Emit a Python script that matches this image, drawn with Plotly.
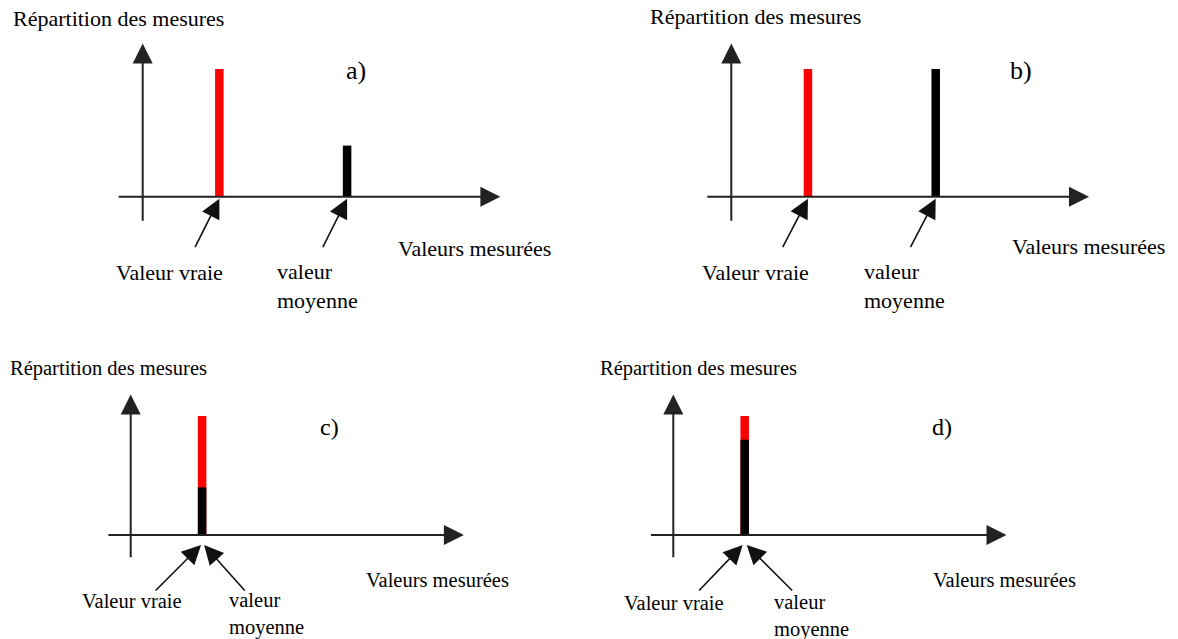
import plotly.graph_objects as go

# ---------------- data ----------------
panel_labels = ["a)", "b)", "c)", "d)"]
true_values = [3, 3, 3, 3]          # position of the true value
mean_values = [8, 8, 3, 3]          # position of the mean value
true_heights = [5, 5, 5, 5]         # red bar heights
mean_heights = [2, 5, 2, 4]         # black bar heights
y_title = "Répartition des mesures"
x_title = "Valeurs mesurées"
true_label = "Valeur vraie"
mean_label = "valeur<br>moyenne"

# ---------------- layout (pixels) ----------------
W, H = 1178, 639
FONT = "Liberation Serif, Times New Roman, serif"

panels = [
    dict(box=(0, 0, 589, 320), ox=142.7, oy=196.7, u=25.55, ytip=6.0, fs=22, lfs=26,
         title=(10.8, 18.3), lab=(344, 70), tv=(114, 272.7), mv=(275, 286.5), xt=(396, 248.3),
         tarr=(-25, 50), marr=(-25, 50), yshift=-2, txs=0, mxs=0),
    dict(box=(589, 0, 1178, 320), ox=731.3, oy=196.7, u=25.55, ytip=6.0, fs=22, lfs=26,
         title=(648.4, 16.7), lab=(1008.4, 70), tv=(700, 272.7), mv=(862, 286.5), xt=(1009.5, 246.7),
         tarr=(-26, 50), marr=(-26, 50), yshift=-2, txs=0, mxs=0),
    dict(box=(0, 320, 589, 639), ox=130.7, oy=535, u=23.8, ytip=5.9, fs=20.5, lfs=24,
         title=(7.9, 368.3), lab=(317.7, 427.3), tv=(80, 601), mv=(226.7, 614), xt=(364.3, 580),
         tarr=(-47, 47), marr=(42, 47), yshift=-10, txs=-1, mxs=2),
    dict(box=(589, 320, 1178, 639), ox=673.3, oy=535, u=23.8, ytip=5.9, fs=20.5, lfs=24,
         title=(598.3, 368.3), lab=(930.4, 427.3), tv=(622, 603), mv=(771.7, 615.6), xt=(931, 580),
         tarr=(-45, 47), marr=(47, 47), yshift=-10, txs=-2, mxs=2),
]

AXIS_COLOR = "#222222"
fig = go.Figure()
annotations = []
layout_axes = {}


def px_x(x):
    return x / W


def px_y(y):
    return 1 - y / H


for i, p in enumerate(panels):
    n = i + 1
    xa = "x" if n == 1 else f"x{n}"
    ya = "y" if n == 1 else f"y{n}"
    x0, y0, x1, y1 = p["box"]
    ox, oy, u = p["ox"], p["oy"], p["u"]
    bw = 8.5 / u

    layout_axes["xaxis" if n == 1 else f"xaxis{n}"] = dict(
        domain=[x0 / W, x1 / W], range=[(x0 - ox) / u, (x1 - ox) / u],
        visible=False, fixedrange=True, anchor=ya)
    layout_axes["yaxis" if n == 1 else f"yaxis{n}"] = dict(
        domain=[1 - y1 / H, 1 - y0 / H], range=[(oy - y1) / u, (oy - y0) / u],
        visible=False, fixedrange=True, anchor=xa)

    # bars: true value (red) then mean value (black) on top
    fig.add_trace(go.Bar(x=[true_values[i]], y=[true_heights[i]], width=[bw],
                         marker=dict(color="#ff0000", line=dict(width=0)),
                         xaxis=xa, yaxis=ya, showlegend=False, hoverinfo="skip"))
    fig.add_trace(go.Bar(x=[mean_values[i]], y=[mean_heights[i]], width=[bw],
                         marker=dict(color="#000000", line=dict(width=0)),
                         xaxis=xa, yaxis=ya, showlegend=False, hoverinfo="skip"))

    # axis arrows
    annotations.append(dict(x=14, y=0, ax=-1, ay=0, xref=xa, yref=ya, axref=xa, ayref=ya,
                            text="", showarrow=True, arrowhead=2, arrowsize=2.0,
                            arrowwidth=2, arrowcolor=AXIS_COLOR))
    annotations.append(dict(x=0, y=p["ytip"], ax=0, ay=-1, xref=xa, yref=ya, axref=xa, ayref=ya,
                            text="", showarrow=True, arrowhead=2, arrowsize=2.0,
                            arrowwidth=2, arrowcolor=AXIS_COLOR))

    # pointer arrows to true and mean values
    annotations.append(dict(x=true_values[i], y=0, xref=xa, yref=ya, ax=p["tarr"][0], ay=p["tarr"][1],
                            yshift=p["yshift"], xshift=p["txs"], text="", showarrow=True,
                            arrowhead=2, arrowsize=2.4, arrowwidth=1.6, arrowcolor="#111111"))
    annotations.append(dict(x=mean_values[i], y=0, xref=xa, yref=ya, ax=p["marr"][0], ay=p["marr"][1],
                            yshift=p["yshift"], xshift=p["mxs"], text="", showarrow=True,
                            arrowhead=2, arrowsize=2.4, arrowwidth=1.6, arrowcolor="#111111"))

    fs = p["fs"]
    texts = [
        (y_title, p["title"], fs),
        (panel_labels[i], p["lab"], p["lfs"]),
        (true_label, p["tv"], fs),
        (mean_label, p["mv"], fs),
        (x_title, p["xt"], fs),
    ]
    for txt, (tx, ty), size in texts:
        annotations.append(dict(x=px_x(tx), y=px_y(ty), xref="paper", yref="paper",
                                xanchor="left", yanchor="middle", align="left",
                                text=txt, showarrow=False,
                                font=dict(family=FONT, size=size, color="#000000")))

fig.update_layout(
    width=W, height=H, autosize=False,
    margin=dict(l=0, r=0, t=0, b=0, pad=0),
    paper_bgcolor="white", plot_bgcolor="white",
    barmode="overlay", showlegend=False,
    annotations=annotations,
    **layout_axes,
)

fig.write_html("out.html", config={"displayModeBar": False},
               post_script="document.body.style.margin='0px';")
